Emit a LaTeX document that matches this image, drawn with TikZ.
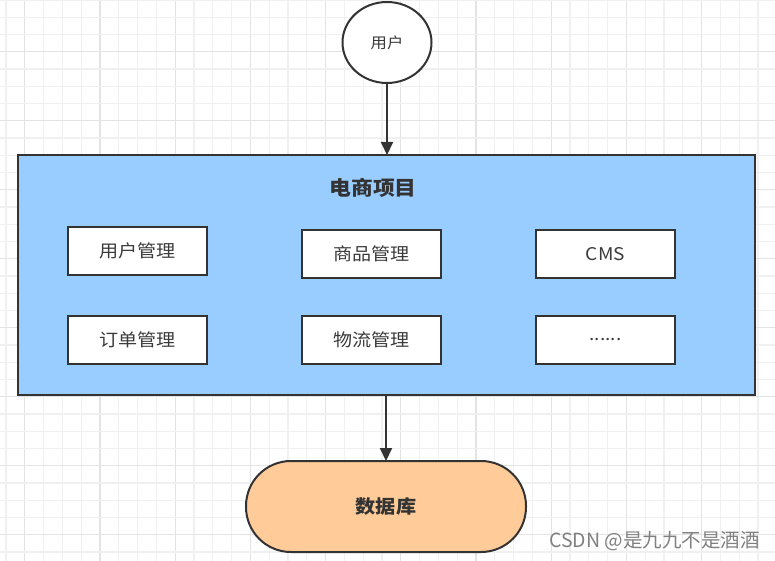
\documentclass[tikz,border=0pt]{standalone}
\usepackage{fontspec}
\setmainfont{Noto Sans CJK SC}
\usetikzlibrary{shapes.geometric,arrows.meta}
\definecolor{bord}{HTML}{333333}
\definecolor{txt}{HTML}{3A3A3A}
\definecolor{projblue}{HTML}{99CCFF}
\definecolor{dborange}{HTML}{FFCC99}
\definecolor{gminor}{HTML}{F0F0F0}
\definecolor{gmajor}{HTML}{E3E3E3}
\newcommand\sx[1]{\scalebox{1.09}[1]{#1}}
\tikzset{
  modbox/.style={draw=bord, line width=2pt, fill=white, inner sep=0pt, outer sep=0pt,
    minimum width=139pt, minimum height=48pt, text=txt, font=\fontsize{17.5}{20}\selectfont},
  link/.style={draw=bord, line width=2pt, -{Triangle[length=13pt,width=12pt]}},
}
\begin{document}
\begin{tikzpicture}[x=1pt,y=-1pt]
\useasboundingbox (0,0) rectangle (775,561);
\fill[white] (0,0) rectangle (775,561);
% grid
\foreach \k in {0,...,41} {
  \pgfmathtruncatemacro\m{mod(\k,4)}
  \ifnum\m=1
    \draw[gmajor, line width=1.3pt] ({6+18.8*\k},0) -- ({6+18.8*\k},561);
  \else
    \draw[gminor, line width=1.3pt] ({6+18.8*\k},0) -- ({6+18.8*\k},561);
  \fi
}
\foreach \j in {0,...,33} {
  \pgfmathtruncatemacro\m{mod(\j,4)}
  \ifnum\m=3
    \draw[gmajor, line width=1.3pt] (0,{17.25*\j}) -- (775,{17.25*\j});
  \else
    \draw[gminor, line width=1.3pt] (0,{17.25*\j}) -- (775,{17.25*\j});
  \fi
}
% user
\node[ellipse, draw=bord, line width=2pt, fill=white, minimum width=89pt, minimum height=81pt,
  inner sep=0pt, text=txt, font=\fontsize{15}{18}\selectfont] (user) at (387,42.5) {\sx{用户}};
% project
\node[draw=bord, line width=2pt, fill=projblue, minimum width=737pt, minimum height=240pt,
  inner sep=0pt, outer sep=0pt] (proj) at (386.5,275) {};
\node[text=bord, font=\fontsize{20}{24}\selectfont\bfseries] (title) at (373,188) {\sx{电商项目}};
\node[modbox] (m1) at (137.5,251) {\sx{用户管理}};
\node[modbox] (m2) at (371.5,254) {\sx{商品管理}};
\node[modbox] (m3) at (605.5,254) {\sx{CMS}};
\node[modbox] (m4) at (137.5,340) {\sx{订单管理}};
\node[modbox] (m5) at (371.5,340) {\sx{物流管理}};
\node[modbox] (m6) at (605.5,340) {\sx{......}};
% database
\node[draw=bord, line width=2pt, fill=dborange, rounded corners=45pt, minimum width=280pt,
  minimum height=91pt, inner sep=0pt, outer sep=0pt, text=bord,
  font=\fontsize{18.5}{22}\selectfont\bfseries] (db) at (386,506.5) {\sx{数据库}};
% connectors
\draw[link] (user.south) -- (user.south |- proj.north);
\draw[link] (db.north |- proj.south) -- (db.north);
% watermark
\node[text=black!50, font=\fontsize{19.5}{22}\selectfont, anchor=east, inner sep=0pt] (wm) at (760,541.5) {CSDN @是九九不是酒酒};
\end{tikzpicture}
\end{document}
